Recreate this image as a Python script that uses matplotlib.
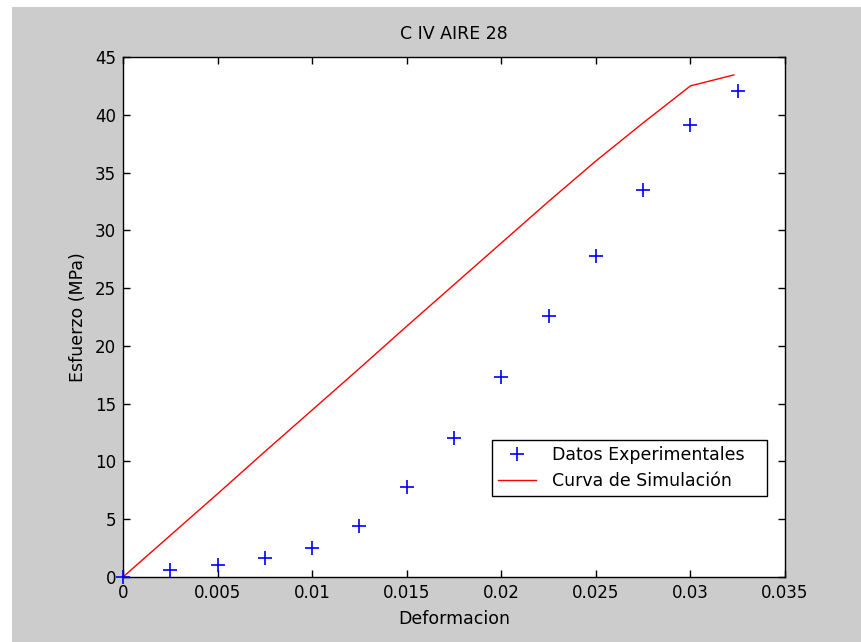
import matplotlib
matplotlib.use("Agg")
import matplotlib.pyplot as plt
from matplotlib.patches import Rectangle

plt.rcParams['font.family'] = ['DejaVu Sans']

# Experimental points
deformacion_exp = [0.0, 0.0025, 0.005, 0.0075, 0.01, 0.0125, 0.015, 0.0175,
                   0.02, 0.0225, 0.025, 0.0275, 0.03, 0.0325]
esfuerzo_exp = [0.0, 0.6, 1.0, 1.65, 2.5, 4.4, 7.8, 12.0,
                17.3, 22.6, 27.8, 33.5, 39.1, 42.1]

# Simulated curve
deformacion_sim = [0.0, 0.0025, 0.005, 0.0075, 0.01, 0.0125, 0.015, 0.0175,
                   0.02, 0.0225, 0.025, 0.0275, 0.03, 0.0323]
esfuerzo_sim = [0.0, 3.6, 7.2, 10.85, 14.45, 18.05, 21.7, 25.3,
                28.9, 32.5, 36.0, 39.3, 42.5, 43.45]

x_ticks = [0, 0.005, 0.01, 0.015, 0.02, 0.025, 0.03, 0.035]
x_tick_labels = ['0', '0.005', '0.01', '0.015', '0.02', '0.025', '0.03', '0.035']
y_ticks = [0, 5, 10, 15, 20, 25, 30, 35, 40, 45]

W, H = 862, 642
fig = plt.figure(figsize=(W / 100, H / 100), dpi=100, facecolor='white')
fig.patches.append(Rectangle((12 / W, 0), 1 - 12 / W, 1 - 7 / H,
                             transform=fig.transFigure, facecolor='#cccccc',
                             edgecolor='none', zorder=-10))

ax = fig.add_axes([123 / W, (H - 577) / H, (785 - 123) / W, (577 - 57) / H])
ax.set_facecolor('white')

ax.plot(deformacion_exp, esfuerzo_exp, linestyle='none', marker='+',
        color='#0000ff', markersize=10, markeredgewidth=1.2,
        label='Datos Experimentales', clip_on=False, zorder=3)
ax.plot(deformacion_sim, esfuerzo_sim, color='#ff0000', linewidth=1,
        label='Curva de Simulación', zorder=2)

ax.set_xlim(0, 0.035)
ax.set_ylim(0, 45)
ax.set_xticks(x_ticks)
ax.set_xticklabels(x_tick_labels)
ax.set_yticks(y_ticks)
ax.tick_params(direction='in', top=True, right=True, length=5, width=1,
               labelsize=12, colors='black', pad=5)
for s in ax.spines.values():
    s.set_linewidth(1)
    s.set_color('black')

ax.set_title('C IV AIRE 28', fontsize=12.5, pad=13)
ax.set_xlabel('Deformacion', fontsize=12.5, labelpad=6)
ax.set_ylabel('Esfuerzo (MPa)', fontsize=12.5, labelpad=6)

leg = ax.legend(loc='lower left', bbox_to_anchor=(0.557, 0.156, 0.416, 0.107),
                mode='expand', fontsize=12.5, fancybox=False, framealpha=1,
                edgecolor='black', borderpad=0.35, handlelength=2.2,
                handletextpad=0.9, labelspacing=0.45, borderaxespad=0)
leg.get_frame().set_linewidth(1)

fig.savefig('out.png', dpi=100, facecolor=fig.get_facecolor())
